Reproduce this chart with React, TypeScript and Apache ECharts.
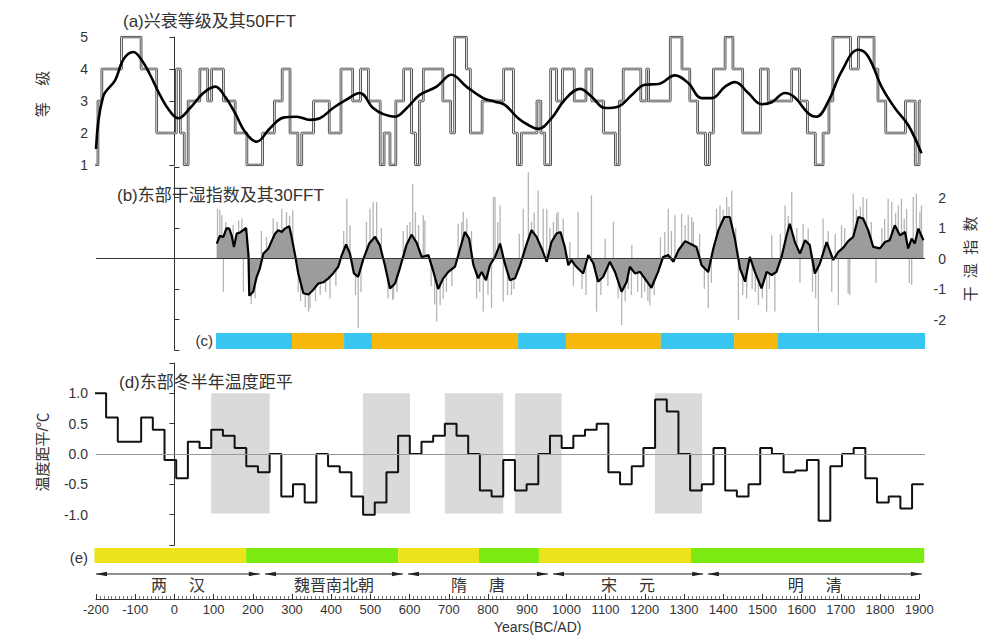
import { useEffect, useRef } from "react";
import * as echarts from "echarts";

// ---------- Panel (a): rise/decline rank (step) and its 50FFT ----------
const RANK_BREAKS = [
  -202, -195, -185, -135, -85, -45, 5, 15, 25, 35, 65, 85, 95, 125, 155, 185, 225, 255, 275, 295,
  315, 325, 355, 395, 425, 455, 475, 495, 525, 535, 550, 565, 585, 605, 615, 625, 635, 685, 705, 715,
  745, 755, 785, 840, 865, 875, 885, 925, 935, 945, 960, 975, 990, 1020, 1050, 1065, 1095, 1125, 1135, 1145,
  1190, 1205, 1210, 1265, 1295, 1315, 1335, 1355, 1365, 1375, 1405, 1425, 1450, 1495, 1515, 1575, 1595, 1615, 1635, 1655,
  1670, 1680, 1725, 1745, 1785, 1795, 1815, 1865, 1890, 1900, 1905,
];
const RANK_LEVELS = [
  1, 3, 4, 5, 4, 2, 4, 2, 1, 3, 4, 3, 4, 3, 2, 1, 2, 3, 4, 2,
  1, 2, 3, 2, 4, 3, 4, 3, 1, 2, 1, 3, 4, 2, 1, 3, 4, 3, 2, 5,
  4, 2, 3, 4, 2, 1, 2, 3, 2, 1, 4, 3, 4, 3, 4, 3, 2, 1, 3, 4,
  3, 4, 3, 5, 4, 3, 2, 1, 2, 4, 5, 4, 2, 4, 3, 4, 3, 2, 1, 2,
  3, 5, 4, 5, 4, 3, 2, 3, 1, 3,
];
const RANK_FFT: [number, number][] = [
  [-200, 1.5], [-182, 3.13], [-151, 3.65], [-130, 4.3], [-105, 4.53], [-84, 4.29], [-62, 3.82], [-37, 3.19],
  [-11, 2.67], [10, 2.46], [40, 2.78], [74, 3.25], [104, 3.45], [129, 3.14], [155, 2.62], [180, 2.04],
  [210, 1.73], [244, 2.15], [278, 2.48], [312, 2.51], [346, 2.41], [371, 2.46], [405, 2.78], [439, 3.04],
  [473, 3.25], [507, 2.78], [533, 2.59], [563, 2.51], [593, 2.78], [626, 3.19], [669, 3.45], [707, 3.82],
  [745, 3.45], [788, 3.09], [818, 2.98], [843, 2.88], [877, 2.46], [903, 2.25], [928, 2.13], [962, 2.46],
  [996, 3.04], [1035, 3.38], [1064, 3.14], [1099, 2.78], [1133, 2.83], [1167, 3.19], [1201, 3.51], [1235, 3.53],
  [1277, 3.8], [1311, 3.56], [1345, 3.09], [1371, 3.09], [1405, 3.45], [1430, 3.59], [1464, 3.25], [1498, 2.9],
  [1524, 2.96], [1558, 3.25], [1583, 3.11], [1617, 2.62], [1638, 2.51], [1668, 2.98], [1702, 3.92], [1745, 4.6],
  [1770, 4.39], [1804, 3.45], [1838, 2.78], [1872, 2.25], [1906, 1.37],
];

// ---------- Panel (b): eastern dry/wet index and its 30FFT ----------
const DRYWET_FFT: [number, number][] = [
  [108, 0.49], [116, 0.74], [125, 0.71], [133, 1.0], [140, 0.98], [146, 0.76], [152, 0.38], [159, 0.82],
  [167, 0.85], [183, 1.0], [189, 0.11], [191, -1.22], [201, -1.09], [210, -0.6], [218, -0.33], [227, 0.16],
  [240, 0.33], [248, 0.57], [257, 0.82], [265, 0.93], [274, 0.87], [282, 0.98], [293, 1.06], [299, 0.71],
  [308, 0.11], [316, -0.49], [329, -1.14], [342, -1.18], [354, -1.03], [367, -0.82], [380, -0.78], [393, -0.65],
  [405, -0.49], [418, -0.27], [427, 0.11], [438, 0.46], [448, 0.16], [458, -0.49], [469, -0.6], [482, -0.02],
  [497, 0.49], [512, 0.71], [524, 0.44], [537, -0.22], [550, -0.98], [563, -0.82], [575, -0.33], [592, 0.44],
  [605, 0.78], [618, 0.52], [631, 0.05], [648, 0.11], [661, -0.44], [673, -1.0], [686, -0.65], [699, -0.44],
  [716, -0.27], [729, 0.33], [741, 0.87], [752, 0.65], [763, -0.22], [775, -0.65], [784, -0.44], [795, -0.71],
  [805, -0.22], [818, 0.05], [831, 0.49], [843, -0.16], [856, -0.71], [869, -0.65], [882, -0.22], [899, 0.49],
  [911, 0.93], [924, 0.71], [937, 0.33], [950, -0.11], [962, 0.54], [975, 0.82], [985, 0.87], [996, 0.38],
  [1005, -0.22], [1013, -0.05], [1022, -0.22], [1030, -0.33], [1043, -0.49], [1056, 0.11], [1069, -0.16], [1081, -0.76],
  [1094, -0.6], [1111, -0.11], [1124, -0.44], [1141, -1.09], [1154, -0.76], [1162, -0.27], [1175, -0.49], [1188, -0.44],
  [1200, -0.65], [1217, -0.96], [1234, -0.44], [1247, 0.05], [1260, 0.11], [1273, -0.11], [1286, 0.27], [1303, 0.57],
  [1315, 0.49], [1332, 0.38], [1345, -0.22], [1362, -0.44], [1375, 0.33], [1388, 0.93], [1403, 1.36], [1417, 1.36],
  [1430, 0.65], [1443, -0.33], [1456, -0.76], [1468, 0.05], [1481, -0.44], [1498, -0.98], [1511, -0.44], [1524, -0.54],
  [1536, -0.44], [1549, 0.05], [1562, 0.76], [1570, 1.14], [1583, 0.54], [1596, 0.16], [1609, 0.6], [1621, 0.44],
  [1634, -0.49], [1647, -0.16], [1664, 0.54], [1681, -0.05], [1694, 0.22], [1706, 0.35], [1719, 0.57], [1732, 0.71],
  [1745, 1.36], [1757, 1.31], [1770, 0.93], [1783, 0.38], [1800, 0.33], [1813, 0.54], [1825, 0.6], [1838, 1.09],
  [1851, 0.76], [1864, 0.87], [1872, 0.33], [1881, 0.65], [1889, 0.49], [1898, 0.98], [1911, 0.6],
];
const DRYWET_SPIKES: [number, number][] = [
  [110, 1.63], [116, 1.6], [121, 1.42], [125, -1.09], [131, 1.2], [150, 1.1], [164, 1.25], [172, 1.31], [176, -1.09],
  [196, -1.5], [206, -1.3], [222, 0.9], [235, 0.7], [252, 1.31], [262, 1.2], [274, 1.63], [286, 1.53], [294, 1.4],
  [302, 1.58], [316, -1.09], [322, -1.4], [334, -1.6], [342, -1.74], [346, -1.63], [360, -1.4], [372, -1.2],
  [386, -1.1], [397, -1.31], [412, -0.9], [432, 0.9], [440, 1.96], [448, 1.09], [462, -1.2], [469, -2.29],
  [476, -1.1], [490, 1.2], [499, 1.63], [507, 1.85], [516, 1.85], [528, 1.0], [545, -1.3], [557, -1.36], [559, -1.31],
  [568, -1.1], [584, 0.9], [594, 1.1], [601, 1.2], [608, 2.45], [615, 1.53], [623, 1.1], [635, 1.42], [639, 1.25],
  [655, -0.9], [664, -1.5], [669, -2.07], [678, -1.53], [686, -1.31], [694, -1.1], [708, -0.9], [724, 1.14],
  [733, 1.2], [737, 1.53], [746, 1.3], [758, 0.9], [771, -1.31], [779, -1.1], [788, -1.74], [800, -1.2], [809, -1.63],
  [814, 2.02], [818, 2.02], [825, 1.2], [831, 1.74], [839, -1.42], [850, -1.2], [860, -1.2], [866, -1.0],
  [880, 0.8], [890, 1.63], [903, 2.83], [911, 1.2], [918, 1.5], [928, 2.23], [941, 1.63], [950, 1.63], [958, 1.0],
  [967, 1.2], [975, 1.47], [979, 1.53], [992, 1.31], [1009, 0.54], [1018, -0.9], [1030, 1.53], [1040, -1.0],
  [1050, -1.2], [1064, 2.07], [1077, -1.74], [1088, -1.2], [1099, 0.65], [1106, -0.9], [1120, 1.2], [1132, -1.3],
  [1141, -2.18], [1150, -1.4], [1158, -1.0], [1166, -1.2], [1167, 0.44], [1182, -1.1], [1192, -1.3], [1200, -1.09],
  [1208, -1.4], [1213, -1.53], [1224, -1.2], [1240, 0.7], [1251, 0.87], [1260, 1.63], [1268, 0.9], [1277, 1.42],
  [1294, 1.47], [1303, 1.1], [1311, 1.42], [1320, 1.36], [1324, 1.2], [1340, 0.8], [1352, -1.0], [1362, -1.63],
  [1370, -0.8], [1383, 1.63], [1392, 1.74], [1400, 1.6], [1409, 2.02], [1415, 1.7], [1422, 2.23], [1432, 1.0],
  [1439, -2.02], [1450, -1.2], [1460, -1.31], [1474, -1.0], [1482, -1.1], [1490, -1.53], [1500, -1.3],
  [1511, -1.74], [1518, -1.0], [1524, 0.76], [1532, -1.74], [1546, 0.8], [1558, 1.74], [1566, 1.4], [1575, 2.18],
  [1588, 1.0], [1596, -0.8], [1604, 1.14], [1617, 0.98], [1628, -1.1], [1636, -1.3], [1643, -2.4], [1655, 1.31],
  [1668, 0.9], [1677, -1.09], [1686, 0.8], [1694, -1.53], [1702, 1.09], [1710, 1.0], [1719, -1.14], [1723, -1.2],
  [1732, 2.12], [1740, 1.6], [1750, 1.7], [1757, 2.02], [1766, 1.96], [1778, 1.2], [1790, -0.8], [1805, 1.0],
  [1812, 1.3], [1821, 1.96], [1830, 1.85], [1840, 1.5], [1847, 1.74], [1855, 1.96], [1862, 1.3], [1868, 1.63],
  [1875, -0.8], [1881, -0.87], [1885, 2.02], [1893, 2.12], [1902, 1.53], [1906, 1.74],
];

// ---------- Panel (c): dry/wet phases ----------
const PHASE_STARTS = [106, 300, 433, 504, 877, 999, 1241, 1428, 1540];
const PHASE_ENDS = [300, 433, 504, 877, 999, 1241, 1428, 1540, 1915];
const PHASE_KIND = [0, 1, 0, 1, 0, 1, 0, 1, 0];
const PHASE_COLORS = ["#36c6f0", "#f7b80c"];

// ---------- Panel (d): eastern winter half-year temperature anomaly ----------
const TEMP_START = -204;
const TEMP_STEP = 29.8;
const TEMP_ANOM = [
  1.0, 0.6, 0.2, 0.2, 0.6, 0.4, -0.1, -0.4, 0.2, 0.1,
  0.4, 0.3, 0.1, -0.2, -0.3, 0.0, -0.7, -0.5, -0.8, 0.0,
  -0.2, -0.3, -0.7, -1.0, -0.8, -0.3, 0.3, 0.0, 0.2, 0.3,
  0.5, 0.3, 0.0, -0.6, -0.7, -0.1, -0.6, -0.5, 0.0, 0.3,
  0.1, 0.3, 0.4, 0.5, -0.3, -0.5, -0.2, 0.1, 0.9, 0.7,
  0.0, -0.6, -0.5, 0.1, -0.6, -0.7, -0.5, 0.1, 0.0, -0.3,
  -0.27, -0.1, -1.1, -0.2, 0.0, 0.1, -0.4, -0.8, -0.7, -0.9,
  -0.5,
];
const TEMP_SHADE: [number, number][] = [[94, 243], [481, 601], [690, 839], [869, 988], [1226, 1346]];

// ---------- Panel (e): warm/cold periods ----------
const CLIMATE_STARTS = [-204, 183, 571, 777, 930, 1318];
const CLIMATE_ENDS = [183, 571, 777, 930, 1318, 1913];
const CLIMATE_KIND = [0, 1, 0, 1, 0, 1];
const CLIMATE_COLORS = ["#ede31b", "#7ceb12"];

// ---------- Dynasties ----------
const DYNASTY_NAMES = ["两汉", "魏晋南北朝", "隋唐", "宋元", "明清"];
const DYNASTY_STARTS = [-200, 231, 596, 966, 1361];
const DYNASTY_ENDS = [218, 583, 953, 1349, 1907];

// ---------- Axis ----------
const YEAR_MIN = -200;
const YEAR_PANEL_MAX = 1915;
const YEAR_AXIS_MAX = 1900;
const YEAR_TICK = 100;

const FONT = '"Liberation Sans", Arial, "Noto Sans CJK SC", sans-serif';
const TXT = "#333";

function stepData(starts: number[], values: number[], end: number): [number, number][] {
  const d: [number, number][] = values.map((v, i) => [starts[i], v]);
  d.push([end, values[values.length - 1]]);
  return d;
}

export default function App() {
  const ref = useRef<HTMLDivElement>(null);
  useEffect(() => {
    document.body.style.margin = "0";
    const chart = echarts.init(ref.current!, null, { renderer: "svg" });

    const rankData = stepData(RANK_BREAKS.slice(0, RANK_LEVELS.length), RANK_LEVELS, RANK_BREAKS[RANK_BREAKS.length - 1]);
    const tempStarts = TEMP_ANOM.map((_, i) => TEMP_START + i * TEMP_STEP);
    const tempData = stepData(tempStarts, TEMP_ANOM, TEMP_START + TEMP_ANOM.length * TEMP_STEP);

    const bandRender = (colors: string[]) => (params: any, api: any) => {
      const s = api.coord([api.value(0), 0]);
      const e = api.coord([api.value(1), 0]);
      const cs = params.coordSys;
      return {
        type: "rect",
        shape: { x: s[0], y: cs.y, width: e[0] - s[0], height: cs.height },
        style: { fill: colors[api.value(2)] },
      };
    };

    const dynRender = (params: any, api: any) => {
      const i = params.dataIndex;
      const s = api.coord([api.value(0), 0]);
      const e = api.coord([api.value(1), 0]);
      const cs = params.coordSys;
      const y = cs.y + 8;
      const ty = cs.y + 19.5;
      const mid = (s[0] + e[0]) / 2;
      const name = DYNASTY_NAMES[i];
      const children: any[] = [
        { type: "line", shape: { x1: s[0], y1: y, x2: e[0], y2: y }, style: { stroke: "#222", lineWidth: 1 } },
        { type: "polygon", shape: { points: [[s[0], y], [s[0] + 11, y - 2.2], [s[0] + 11, y + 2.2]] }, style: { fill: "#222" } },
        { type: "polygon", shape: { points: [[e[0], y], [e[0] - 11, y - 2.2], [e[0] - 11, y + 2.2]] }, style: { fill: "#222" } },
      ];
      const ts = { fontSize: 16, fontFamily: FONT, fill: TXT, align: "center", verticalAlign: "middle" };
      if (name.length === 2) {
        children.push({ type: "text", x: mid - 19, y: ty, style: { ...ts, text: name[0] } });
        children.push({ type: "text", x: mid + 19, y: ty, style: { ...ts, text: name[1] } });
      } else {
        children.push({ type: "text", x: mid, y: ty, style: { ...ts, text: name } });
      }
      return { type: "group", children };
    };

    const hiddenX = (gi: number) => ({ gridIndex: gi, type: "value", min: YEAR_MIN, max: YEAR_PANEL_MAX, show: false });
    const hiddenY = (gi: number) => ({ gridIndex: gi, type: "value", min: 0, max: 1, show: false });
    const axisLbl = { color: TXT, fontSize: 14, fontFamily: FONT };

    const option: any = {
      animation: false,
      textStyle: { fontFamily: FONT },
      grid: [
        { left: 96, top: 37, width: 829, height: 128 },
        { left: 96, top: 167, width: 829, height: 183 },
        { left: 96, top: 333, width: 829, height: 16 },
        { left: 96, top: 363, width: 829, height: 182 },
        { left: 96, top: 548, width: 829, height: 15 },
        { left: 96, top: 566, width: 829, height: 30 },
        { left: 96, top: 560, width: 823.2, height: 39 },
      ],
      xAxis: [
        hiddenX(0), hiddenX(1), hiddenX(2), hiddenX(3), hiddenX(4), hiddenX(5),
        {
          gridIndex: 6, type: "value", min: YEAR_MIN, max: YEAR_AXIS_MAX, interval: YEAR_TICK,
          axisLine: { show: true, lineStyle: { color: "#333", width: 1 } },
          axisTick: { show: true, inside: true, length: 5, lineStyle: { color: "#333" } },
          minorTick: { show: true, splitNumber: 10, length: 3, lineStyle: { color: "#555", width: 0.8 } },
          axisLabel: { color: TXT, fontSize: 13, fontFamily: FONT, margin: 4, formatter: (v: number) => String(v) },
          splitLine: { show: false },
        },
      ],
      yAxis: [
        {
          gridIndex: 0, type: "value", min: 1, max: 5, interval: 1, position: "left",
          axisLine: { show: true, lineStyle: { color: "#333" } },
          axisTick: { show: true, length: 5, lineStyle: { color: "#333" } },
          axisLabel: { ...axisLbl, margin: 8 },
          splitLine: { show: false },
        },
        {
          gridIndex: 1, type: "value", min: -3, max: 3, interval: 1, position: "right",
          axisLine: { show: true, lineStyle: { color: "#333" } },
          axisTick: { show: true, length: 5, lineStyle: { color: "#333" } },
          axisLabel: { ...axisLbl, margin: 21, align: "right", formatter: (v: number) => (Math.abs(v) === 3 ? "" : String(v)) },
          splitLine: { show: false },
        },
        hiddenY(2),
        {
          gridIndex: 3, type: "value", min: -1.5, max: 1.5, interval: 0.5, position: "left",
          axisLine: { show: true, lineStyle: { color: "#333" } },
          axisTick: { show: true, length: 5, lineStyle: { color: "#333" } },
          axisLabel: { ...axisLbl, margin: 8, formatter: (v: number) => (Math.abs(v) === 1.5 ? "" : v.toFixed(1)) },
          splitLine: { show: false },
        },
        hiddenY(4), hiddenY(5), hiddenY(6),
      ],
      series: [
        // (a)
        { type: "line", xAxisIndex: 0, yAxisIndex: 0, step: "end", data: rankData, symbol: "none", lineStyle: { color: "#333", width: 2.6 } },
        { type: "line", xAxisIndex: 0, yAxisIndex: 0, step: "end", data: rankData, symbol: "none", lineStyle: { color: "#fff", width: 0.9 } },
        { type: "line", xAxisIndex: 0, yAxisIndex: 0, data: RANK_FFT, smooth: 0.4, symbol: "none", lineStyle: { color: "#000", width: 2.6 } },
        // (b)
        { type: "bar", xAxisIndex: 1, yAxisIndex: 1, data: DRYWET_SPIKES, barWidth: 1.3, itemStyle: { color: "#b5b5b5" } },
        { type: "line", xAxisIndex: 1, yAxisIndex: 1, data: DRYWET_FFT, symbol: "none", lineStyle: { width: 0, opacity: 0 }, areaStyle: { color: "#9c9c9c", opacity: 1 } },
        {
          type: "line", xAxisIndex: 1, yAxisIndex: 1, data: DRYWET_FFT, symbol: "none", lineStyle: { color: "#000", width: 2.2 },
          markLine: { silent: true, symbol: ["none", "none"], label: { show: false }, lineStyle: { color: "#333", width: 1, type: "solid" }, data: [{ yAxis: 0 }] },
        },
        // (c)
        {
          type: "custom", xAxisIndex: 2, yAxisIndex: 2, renderItem: bandRender(PHASE_COLORS), encode: { x: [0, 1] },
          data: PHASE_STARTS.map((s, i) => [s, PHASE_ENDS[i], PHASE_KIND[i]]),
        },
        // (d)
        {
          type: "line", xAxisIndex: 3, yAxisIndex: 3, step: "end", data: tempData, symbol: "none", lineStyle: { color: "#111", width: 2 },
          markArea: { silent: true, itemStyle: { color: "#dadada" }, data: TEMP_SHADE.map(([a, b]) => [{ xAxis: a, yAxis: 1 }, { xAxis: b, yAxis: -0.98 }]) },
          markLine: { silent: true, symbol: ["none", "none"], label: { show: false }, lineStyle: { color: "#999", width: 1, type: "solid" }, data: [{ yAxis: 0 }] },
        },
        // (e)
        {
          type: "custom", xAxisIndex: 4, yAxisIndex: 4, renderItem: bandRender(CLIMATE_COLORS), encode: { x: [0, 1] },
          data: CLIMATE_STARTS.map((s, i) => [s, CLIMATE_ENDS[i], CLIMATE_KIND[i]]),
        },
        // dynasties
        {
          type: "custom", xAxisIndex: 5, yAxisIndex: 5, renderItem: dynRender, encode: { x: [0, 1] },
          data: DYNASTY_STARTS.map((s, i) => [s, DYNASTY_ENDS[i]]),
        },
        { type: "line", xAxisIndex: 6, yAxisIndex: 6, data: [] },
      ],
      graphic: [
        { type: "text", x: 123, y: 21, style: { text: "(a)兴衰等级及其50FFT", fontSize: 17, fontFamily: FONT, fill: TXT, align: "left", verticalAlign: "middle" } },
        { type: "text", x: 117, y: 195, style: { text: "(b)东部干湿指数及其30FFT", fontSize: 17, fontFamily: FONT, fill: TXT, align: "left", verticalAlign: "middle" } },
        { type: "text", x: 119, y: 382, style: { text: "(d)东部冬半年温度距平", fontSize: 17, fontFamily: FONT, fill: TXT, align: "left", verticalAlign: "middle" } },
        { type: "text", x: 213, y: 340, style: { text: "(c)", fontSize: 15, fontFamily: FONT, fill: TXT, align: "right", verticalAlign: "middle" } },
        { type: "text", x: 88, y: 557, style: { text: "(e)", fontSize: 15, fontFamily: FONT, fill: TXT, align: "right", verticalAlign: "middle" } },
        { type: "text", x: 42, y: 94, rotation: Math.PI / 2, style: { text: "等    级", fontSize: 15, fontFamily: FONT, fill: TXT, align: "center", verticalAlign: "middle" } },
        { type: "text", x: 970, y: 259, rotation: Math.PI / 2, style: { text: "干  湿  指  数", fontSize: 15, fontFamily: FONT, fill: TXT, align: "center", verticalAlign: "middle" } },
        { type: "text", x: 42, y: 452, rotation: Math.PI / 2, style: { text: "温度距平/℃", fontSize: 15, fontFamily: FONT, fill: TXT, align: "center", verticalAlign: "middle" } },
        { type: "text", x: 494, y: 627, style: { text: "Years(BC/AD)", fontSize: 14, fontFamily: FONT, fill: TXT, align: "left", verticalAlign: "middle" } },
      ],
    };

    chart.setOption(option);
    return () => chart.dispose();
  }, []);
  return <div ref={ref} style={{ width: 987, height: 635 }} />;
}
